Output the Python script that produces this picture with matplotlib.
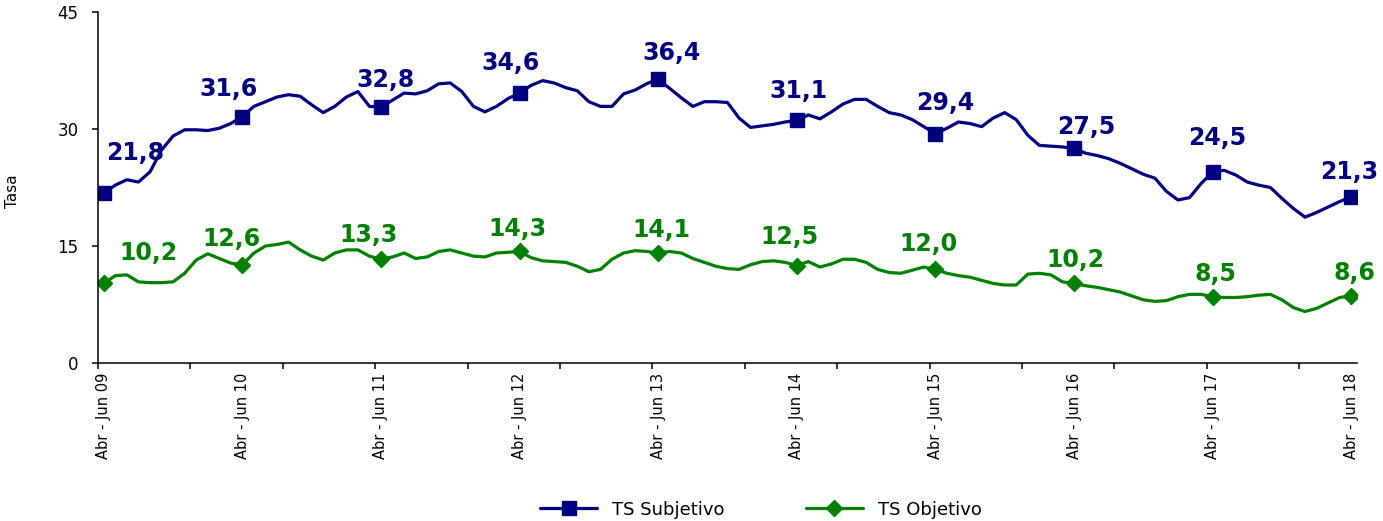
import matplotlib.pyplot as plt
import numpy as np

# rolling quarters, monthly steps (Abr-Jun 09 ... Abr-Jun 18)
years = ["09", "10", "11", "12", "13", "14", "15", "16", "17", "18"]
year_labels = ["Abr - Jun " + y for y in years]

ts_subjetivo = [
    21.8, 22.8, 23.5, 23.2, 24.5, 27.3, 29.1, 29.9, 29.9, 29.8, 30.1, 30.7,
    31.6, 32.9, 33.5, 34.1, 34.4, 34.2, 33.1, 32.1, 32.9, 34.1, 34.8, 32.9,
    32.8, 33.7, 34.6, 34.5, 34.9, 35.8, 35.9, 34.8, 32.9, 32.2, 32.9, 33.9,
    34.6, 35.6, 36.2, 35.9, 35.3, 34.9, 33.5, 32.9, 32.9, 34.5, 35.0, 35.8,
    36.4, 35.2, 34.0, 32.9, 33.5, 33.5, 33.4, 31.4, 30.2, 30.4, 30.6, 30.9,
    31.1, 31.8, 31.3, 32.2, 33.2, 33.8, 33.8, 32.9, 32.1, 31.8, 31.2, 30.3,
    29.4, 30.1, 30.9, 30.7, 30.3, 31.4, 32.1, 31.2, 29.2, 27.9, 27.8, 27.7,
    27.5, 26.9, 26.6, 26.2, 25.6, 24.9, 24.2, 23.7, 22.0, 20.9, 21.2, 23.0,
    24.5, 24.7, 24.1, 23.2, 22.8, 22.5, 21.1, 19.8, 18.7, 19.3, 20.0, 20.7,
    21.3,
]

ts_objetivo = [
    10.2, 11.2, 11.3, 10.4, 10.3, 10.3, 10.4, 11.5, 13.2, 14.0, 13.4, 12.8,
    12.6, 14.1, 15.0, 15.2, 15.5, 14.5, 13.7, 13.2, 14.1, 14.5, 14.5, 13.7,
    13.3, 13.6, 14.1, 13.4, 13.6, 14.3, 14.5, 14.1, 13.7, 13.6, 14.1, 14.2,
    14.3, 13.5, 13.1, 13.0, 12.9, 12.4, 11.7, 12.0, 13.3, 14.1, 14.4, 14.3,
    14.1, 14.3, 14.1, 13.4, 12.9, 12.4, 12.1, 12.0, 12.6, 13.0, 13.1, 12.9,
    12.5, 13.0, 12.3, 12.7, 13.3, 13.3, 12.9, 12.0, 11.6, 11.5, 11.9, 12.3,
    12.0, 11.5, 11.2, 11.0, 10.6, 10.2, 10.0, 10.0, 11.4, 11.5, 11.3, 10.4,
    10.2, 9.9, 9.7, 9.4, 9.1, 8.6, 8.1, 7.9, 8.0, 8.5, 8.8, 8.8,
    8.5, 8.4, 8.4, 8.5, 8.7, 8.8, 8.1, 7.1, 6.6, 7.0, 7.7, 8.4,
    8.6,
]

# label offsets in pixels (layout only)
off_subj = [(31, 40), (-14, 28), (5, 27), (-9, 30), (13, 26),
            (2, 29), (10, 31), (12, 21), (5, 34), (-2, 25)]
off_obj = [(45, 30), (-11, 26), (-12, 24), (-2, 22), (3, 23),
           (-7, 28), (-7, 25), (1, 23), (3, 23), (3, 23)]

BLUE = "#000080"
GREEN = "#008000"

x = np.arange(len(ts_subjetivo))
step = 12
label_idx = x[::step]

fig = plt.figure(figsize=(13.83, 5.21), dpi=100)
ax = fig.add_axes([98 / 1383, 1 - 363 / 521, 1259 / 1383, 351 / 521])

ax.plot(x, ts_subjetivo, color=BLUE, lw=2.3, marker="s", markersize=10,
        markevery=step, solid_joinstyle="round", solid_capstyle="round",
        label="TS Subjetivo")
ax.plot(x, ts_objetivo, color=GREEN, lw=2.3, marker="D", markersize=8,
        markevery=step, solid_joinstyle="round", solid_capstyle="round",
        label="TS Objetivo")

for k, i in enumerate(label_idx):
    ax.annotate(f"{ts_subjetivo[i]:.1f}".replace(".", ","), (x[i], ts_subjetivo[i]),
                xytext=off_subj[k], textcoords="offset pixels", ha="center", va="center",
                fontsize=17, fontweight="bold", color=BLUE)
    ax.annotate(f"{ts_objetivo[i]:.1f}".replace(".", ","), (x[i], ts_objetivo[i]),
                xytext=off_obj[k], textcoords="offset pixels", ha="center", va="center",
                fontsize=17, fontweight="bold", color=GREEN)

ax.set_xlim(-0.5, len(x) - 0.5)
ax.set_ylim(0, 45)
ax.set_yticks([0, 15, 30, 45])

# tick marks every 8 months on category boundaries, labels once a year
ax.set_xticks(np.arange(-0.5, len(x) - 1, 8))
ax.set_xticklabels([])
ax.set_xticks(label_idx, minor=True)
ax.set_xticklabels(year_labels, minor=True, rotation=90, fontsize=10.5, va="top")
ax.tick_params(axis="x", which="major", direction="out", length=4, width=1.1)
ax.tick_params(axis="x", which="minor", length=0, pad=7)
ax.tick_params(axis="y", direction="out", length=4, width=1.1, labelsize=12, pad=10)

for side in ["top", "right"]:
    ax.spines[side].set_visible(False)
for side in ["left", "bottom"]:
    ax.spines[side].set_linewidth(1.1)

ax.set_ylabel("Tasa", fontsize=11)
ax.yaxis.set_label_coords(-0.062, 0.49)

fig.legend(loc="center", bbox_to_anchor=(0.55, 0.022), ncol=2, frameon=False,
           fontsize=13, handlelength=3.2, columnspacing=4.5)

plt.savefig("out.png", dpi=100)
plt.close()
